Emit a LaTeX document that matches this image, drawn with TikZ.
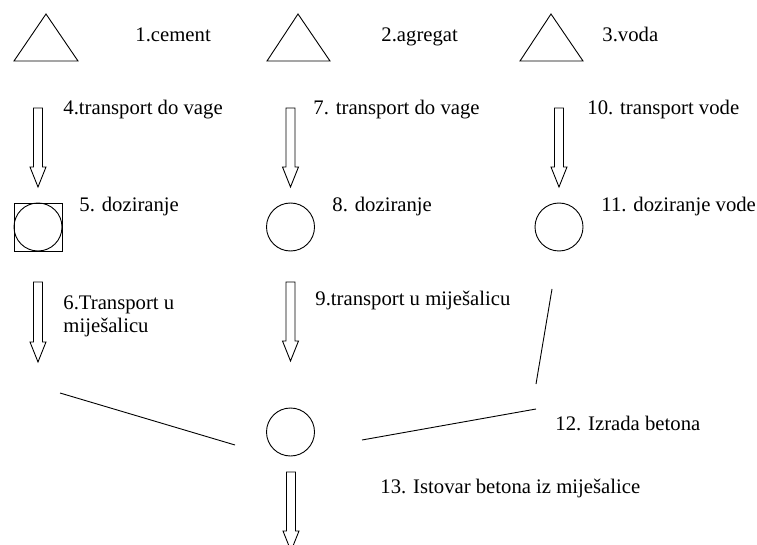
\documentclass[tikz,border=0pt]{standalone}
\usepackage{fontspec}
\setmainfont{Liberation Serif}
\newfontfamily\lblfont{Liberation Serif}
\usetikzlibrary{calc}
\tikzset{
  every picture/.style={line width=0.9pt},
  lbl/.style={anchor=base west, inner sep=0pt, font=\lblfont\fontsize{20.7}{23}\selectfont, align=left},
  roundnode/.style={draw, circle, minimum size=48pt, inner sep=0pt},
  squarenode/.style={draw, rectangle, minimum size=48pt, inner sep=0pt},
  flowline/.style={draw, line width=0.9pt},
  blockarr/.style={draw, line width=0.9pt, line join=miter},
}
% block arrow: #1 = top coordinate, #2 = tip coordinate (vertical, downward)
\newcommand\mybarrow[2]{%
  \draw[blockarr] let \p1=(#1), \p2=(#2) in
    (\x1-4.5pt,\y1) -- (\x1+4.5pt,\y1) -- (\x1+4.5pt,\y2+20pt) -- (\x1+8pt,\y2+20pt)
    -- (\x2,\y2) -- (\x1-8pt,\y2+20pt) -- (\x1-4.5pt,\y2+20pt) -- cycle;}
\begin{document}
\begin{tikzpicture}[x=1pt,y=-1pt]
\useasboundingbox (0,0) rectangle (757,545);
% triangles (sources)
\coordinate (t1a) at (14,61); \coordinate (t1b) at (78,61); \coordinate (t1c) at (46,14);
\coordinate (t2a) at (267,61); \coordinate (t2b) at (330,61); \coordinate (t2c) at (298,14);
\coordinate (t3a) at (520,61); \coordinate (t3b) at (583,61); \coordinate (t3c) at (551,14);
\draw (t1a) -- (t1b) -- (t1c) -- cycle;
\draw (t2a) -- (t2b) -- (t2c) -- cycle;
\draw (t3a) -- (t3b) -- (t3c) -- cycle;
\node[lbl] (l1) at (135,42) {1.cement};
\node[lbl] (l2) at (381,42) {2.agregat};
\node[lbl] (l3) at (602,42) {3.voda};
% first arrows
\coordinate (a4t) at (38,108); \coordinate (a4h) at (38,187);
\coordinate (a7t) at (290.5,108); \coordinate (a7h) at (290.5,187);
\coordinate (a10t) at (559,108); \coordinate (a10h) at (559,187);
\mybarrow{a4t}{a4h}
\mybarrow{a7t}{a7h}
\mybarrow{a10t}{a10h}
\node[lbl] (l4) at (63,115) {4.transport do vage};
\node[lbl] (l7) at (313,115) {7. transport do vage};
\node[lbl] (l10) at (587,115) {10. transport vode};
% dosing
\node[squarenode] (d5) at (38,227) {};
\node[roundnode] (d5c) at (38,227) {};
\node[roundnode] (d8) at (290.5,227) {};
\node[roundnode] (d11) at (559,227) {};
\node[lbl] (l5) at (79,212) {5. doziranje};
\node[lbl] (l8) at (332,212) {8. doziranje};
\node[lbl] (l11) at (601,212) {11. doziranje vode};
% second arrows
\coordinate (a6t) at (38,282); \coordinate (a6h) at (38,362);
\coordinate (a9t) at (290.5,282); \coordinate (a9h) at (290.5,361);
\mybarrow{a6t}{a6h}
\mybarrow{a9t}{a9h}
\node[lbl] (l6) at (63,332) {6.Transport u\\mije\v{s}alicu};
\node[lbl] (l9) at (315,305) {9.transport u mije\v{s}alicu};
% mixer
\node[roundnode] (mix) at (290.5,432) {};
\coordinate (w1) at (552,289); \coordinate (w2) at (536,384);
\coordinate (r1) at (536,409); \coordinate (r2) at (362,440);
\coordinate (c1) at (60,393); \coordinate (c2) at (235,445);
\draw[flowline] (w1) -- (w2);
\draw[flowline] (r1) -- (r2);
\draw[flowline] (c1) -- (c2);
\node[lbl] (l12) at (555,430) {12. Izrada betona};
% output
\coordinate (a13t) at (291,472); \coordinate (a13h) at (291,551);
\mybarrow{a13t}{a13h}
\node[lbl] (l13) at (380,493) {13. Istovar betona iz mije\v{s}alice};
\end{tikzpicture}
\end{document}
